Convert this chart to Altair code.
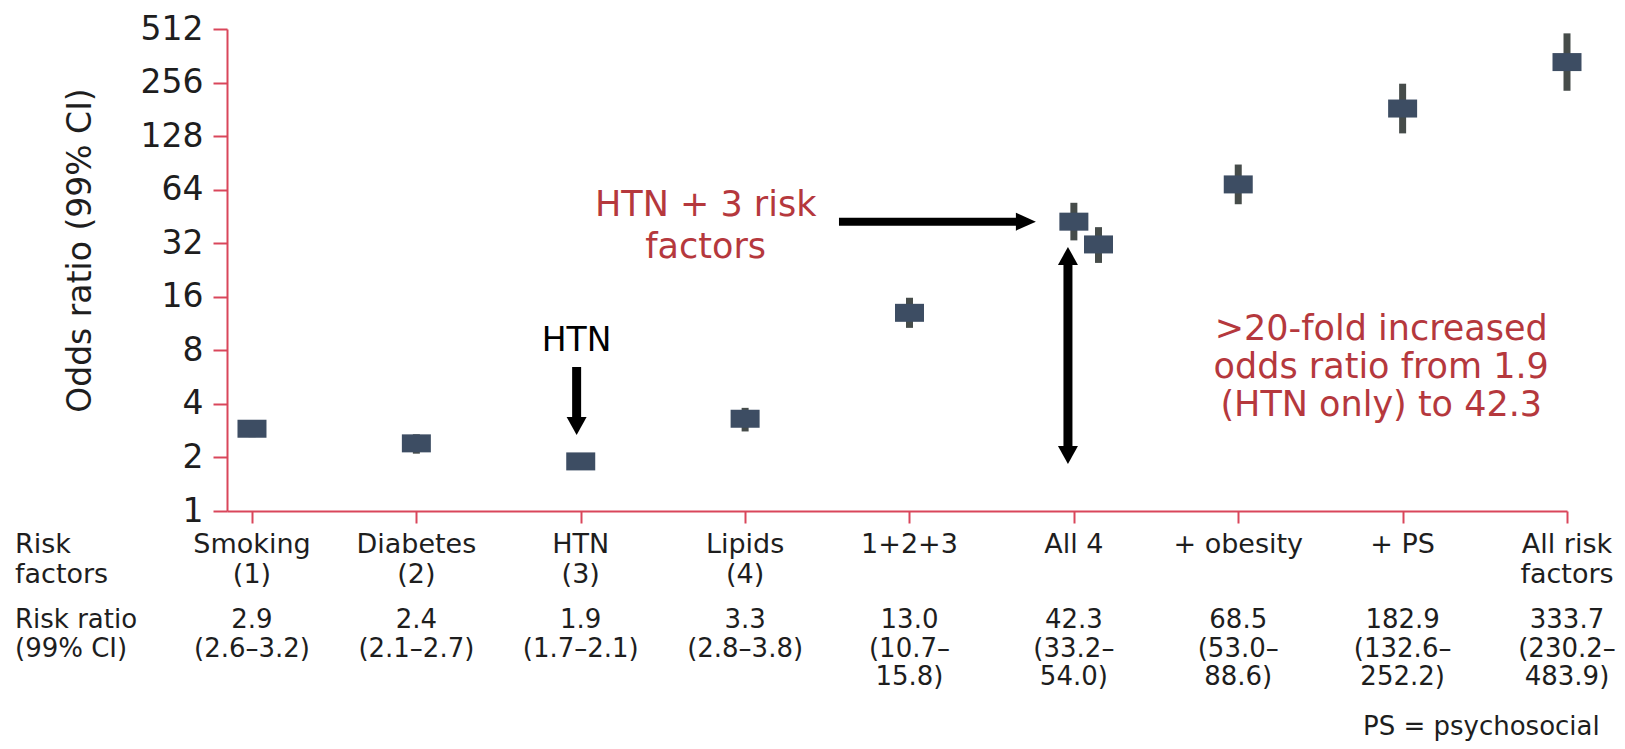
import altair as alt
import pandas as pd

# ---------------- data ----------------
cat_pos = [1, 2, 3, 4, 5, 6, 7, 8, 9]
cat_line1 = ["Smoking", "Diabetes", "HTN", "Lipids", "1+2+3", "All 4", "+ obesity", "+ PS", "All risk"]
cat_line2 = ["(1)", "(2)", "(3)", "(4)", "", "", "", "", "factors"]
rr_text = ["2.9", "2.4", "1.9", "3.3", "13.0", "42.3", "68.5", "182.9", "333.7"]
ci_line1 = ["(2.6–3.2)", "(2.1–2.7)", "(1.7–2.1)", "(2.8–3.8)", "(10.7–", "(33.2–", "(53.0–", "(132.6–", "(230.2–"]
ci_line2 = ["", "", "", "", "15.8)", "54.0)", "88.6)", "252.2)", "483.9)"]

point_pos = [1, 2, 3, 4, 5, 6, 7, 8, 9, 6.15]
odds = [2.9, 2.4, 1.9, 3.3, 13.0, 42.3, 68.5, 182.9, 333.7, 31.5]
ci_low = [2.6, 2.1, 1.7, 2.8, 10.7, 33.2, 53.0, 132.6, 230.2, 24.8]
ci_high = [3.2, 2.7, 2.1, 3.8, 15.8, 54.0, 88.6, 252.2, 483.9, 39.4]

y_ticks = [1, 2, 4, 8, 16, 32, 64, 128, 256, 512]

# annotations (data coordinates)
red_text = ["HTN + 3 risk", "factors", ">20-fold increased", "odds ratio from 1.9", "(HTN only) to 42.3"]
red_x = [3.76, 3.76, 7.87, 7.87, 7.87]
red_y = [45.5, 26.4, 9.14, 5.59, 3.42]

htn_text = ["HTN"]
htn_x = [2.975]
htn_y = [7.9]

arrow_h = {"x1": [4.571], "x2": [5.769], "y": [42.3]}
arrow_v = {"x": [5.964], "y1": [1.84], "y2": [30.5]}
arrow_htn = {"x": [2.975], "y1": [6.45], "y2": [2.67]}

# ---------------- styles ----------------
FONT = "DejaVu Sans"
AXIS_RED = "#d9465b"
TEXT_RED = "#b5383d"
DARK = "#1e1e1e"
MARK_FILL = "#3d4d63"
BAR_COL = "#464c4a"

xscale = alt.Scale(domain=[0.848, 9], nice=False, zero=False)
yscale = alt.Scale(type="log", base=2, domain=[1, 512], nice=False)

XAX = alt.Axis(values=cat_pos, labels=False, title=None, grid=False,
               domainColor=AXIS_RED, domainWidth=2,
               tickColor=AXIS_RED, tickWidth=2, tickSize=12)
YAX = alt.Axis(values=y_ticks, format="d", grid=False,
               title="Odds ratio (99% CI)",
               titleFont=FONT, titleFontSize=33, titleFontWeight="normal",
               titleColor=DARK, titleAngle=270, titleAlign="center",
               titleBaseline="alphabetic", titleX=-137, titleY=221,
               labelFont=FONT, labelFontSize=33, labelColor=DARK,
               labelPadding=10,
               domainColor=AXIS_RED, domainWidth=2,
               tickColor=AXIS_RED, tickWidth=2, tickSize=14)


def X(field="x"):
    return alt.X(f"{field}:Q", scale=xscale, axis=XAX)


def Y(field):
    return alt.Y(f"{field}:Q", scale=yscale, axis=YAX)


pts = pd.DataFrame({"x": point_pos, "odds": odds, "lo": ci_low, "hi": ci_high})

bars = alt.Chart(pts).mark_rule(strokeWidth=7, color=BAR_COL).encode(
    x=X(), y=Y("lo"), y2="hi:Q")

markers = alt.Chart(pts).mark_tick(orient="horizontal", size=29, thickness=18,
                                   color=MARK_FILL, opacity=1).encode(
    x=X(), y=Y("odds"))


# ---------------- text rows below the axis ----------------
def text_row(values, y_px, size, align="center"):
    df = pd.DataFrame({"x": cat_pos, "t": values})
    return alt.Chart(df).mark_text(font=FONT, fontSize=size, color=DARK, align=align,
                                   baseline="alphabetic").encode(
        x=X(), y=alt.value(y_px), text="t:N")


rows = [
    text_row(cat_line1, 524, 27),
    text_row(cat_line2, 554, 27),
    text_row(rr_text, 599, 26),
    text_row(ci_line1, 628, 26),
    text_row(ci_line2, 656, 26),
]


def side_label(txt, y_px, size, x_px=-212, align="left"):
    df = pd.DataFrame({"t": [txt]})
    return alt.Chart(df).mark_text(font=FONT, fontSize=size, color=DARK, align=align,
                                   baseline="alphabetic").encode(
        x=alt.value(x_px), y=alt.value(y_px), text="t:N")


sides = [
    side_label("Risk", 524, 27),
    side_label("factors", 554, 27),
    side_label("Risk ratio", 599, 26),
    side_label("(99% CI)", 628, 26),
    side_label("PS = psychosocial", 706, 26, x_px=1136),
]

# ---------------- annotations ----------------
red_df = pd.DataFrame({"x": red_x, "y": red_y, "t": red_text})
red_layer = alt.Chart(red_df).mark_text(font=FONT, fontSize=35, color=TEXT_RED,
                                        align="center", baseline="alphabetic").encode(
    x=X(), y=Y("y"), text="t:N")

htn_df = pd.DataFrame({"x": htn_x, "y": htn_y, "t": htn_text})
htn_layer = alt.Chart(htn_df).mark_text(font=FONT, fontSize=33, color="black",
                                        align="center", baseline="alphabetic").encode(
    x=X(), y=Y("y"), text="t:N")

ah = pd.DataFrame(arrow_h)
av = pd.DataFrame(arrow_v)
at = pd.DataFrame(arrow_htn)

shaft_h = alt.Chart(ah).mark_rule(strokeWidth=8, color="black", x2Offset=-10).encode(
    x=X("x1"), x2="x2:Q", y=Y("y"))
head_h = alt.Chart(ah).mark_point(shape="M0,0L-2,-0.9L-2,0.9Z", size=400, filled=True,
                                  color="black", opacity=1).encode(x=X("x2"), y=Y("y"))

shaft_v = alt.Chart(av).mark_rule(strokeWidth=9, color="black", yOffset=-10, y2Offset=10).encode(
    x=X("x"), y=Y("y1"), y2="y2:Q")
head_v_up = alt.Chart(av).mark_point(shape="M0,0L-1,1.8L1,1.8Z", size=400, filled=True,
                                     color="black", opacity=1).encode(x=X("x"), y=Y("y2"))
head_v_dn = alt.Chart(av).mark_point(shape="M0,0L-1,-1.8L1,-1.8Z", size=400, filled=True,
                                     color="black", opacity=1).encode(x=X("x"), y=Y("y1"))

shaft_t = alt.Chart(at).mark_rule(strokeWidth=9, color="black", y2Offset=-10).encode(
    x=X("x"), y=Y("y1"), y2="y2:Q")
head_t = alt.Chart(at).mark_point(shape="M0,0L-1,-1.8L1,-1.8Z", size=400, filled=True,
                                  color="black", opacity=1).encode(x=X("x"), y=Y("y2"))

chart = alt.layer(
    bars, markers, *rows, *sides, red_layer, htn_layer,
    shaft_h, head_h, shaft_v, head_v_up, head_v_dn, shaft_t, head_t,
).properties(
    width=1340, height=482,
    background="white",
    autosize=alt.AutoSizeParams(type="none"),
    padding={"left": 219, "top": 21, "right": 50, "bottom": 230},
).configure(font=FONT).configure_view(stroke=None)

chart.save("out.html", embed_options={"renderer": "svg", "actions": False})
